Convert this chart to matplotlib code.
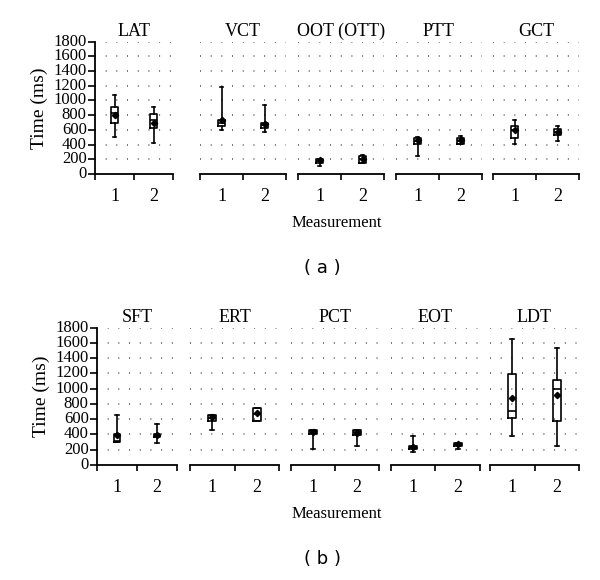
import numpy as np
import matplotlib
matplotlib.use("Agg")
import matplotlib.pyplot as plt

plt.rcParams['font.family'] = 'Liberation Serif'

# box statistics: (whislo, q1, med, q3, whishi, mean)
top_names = ['LAT', 'VCT', 'OOT (OTT)', 'PTT', 'GCT']
top_m1 = [(497, 700, 830, 910, 1078, 808),
          (604, 653, 700, 740, 1190, 730),
          (112, 153, 180, 203, 203, 190),
          (244, 406, 450, 491, 500, 460),
          (406, 491, 600, 659, 740, 595)]
top_m2 = [(415, 627, 740, 821, 910, 694),
          (573, 622, 660, 700, 943, 676),
          (153, 153, 200, 248, 257, 203),
          (402, 402, 450, 496, 514, 460),
          (446, 528, 575, 613, 654, 572)]

bot_names = ['SFT', 'ERT', 'PCT', 'EOT', 'LDT']
bot_m1 = [(297, 297, 320, 402, 659, 393),
          (459, 577, 620, 655, 655, 629),
          (206, 406, 440, 455, 455, 429),
          (166, 206, 230, 253, 376, 232),
          (376, 620, 708, 1197, 1656, 874)]
bot_m2 = [(288, 367, 390, 411, 537, 393),
          (577, 577, 664, 743, 743, 677),
          (253, 398, 430, 455, 455, 420),
          (206, 249, 270, 288, 288, 271),
          (253, 577, 996, 1118, 1530, 914)]

measurements = ['1', '2']
yticks = np.arange(0, 1801, 200)

W, H = 600, 580
fig = plt.figure(figsize=(W / 100, H / 100), dpi=100)

top_x = [(95, 173), (200, 286), (298, 384), (396, 482), (493, 579)]
bot_x = [(97, 177), (190, 279), (291, 379), (391, 480), (490, 579)]


def stats(t):
    return dict(whislo=t[0], q1=t[1], med=t[2], q3=t[3], whishi=t[4], mean=t[5])


def draw_row(names, m1, m2, xs, ytop, ybot, label):
    for i, name in enumerate(names):
        x0, x1 = xs[i]
        ax = fig.add_axes([x0 / W, 1 - ybot / H, (x1 - x0) / W, (ybot - ytop) / H])
        for y in yticks[1:]:
            ax.axhline(y, color='0.25', lw=1.1, linestyle=(0, (0.6, 6.4)), zorder=0)
        lp = dict(color='black', linewidth=1.2)
        ax.bxp([stats(m1[i]), stats(m2[i])], positions=[1, 2], widths=0.17,
               capwidths=0.09, showmeans=True, showfliers=False,
               boxprops=lp, whiskerprops=lp, capprops=lp, medianprops=lp,
               meanprops=dict(marker='D', markerfacecolor='black',
                              markeredgecolor='black', markersize=3.2))
        ax.set_xlim(0.5, 2.5)
        ax.set_ylim(0, 1800)
        for s in ['top', 'right']:
            ax.spines[s].set_visible(False)
        ax.spines['bottom'].set_linewidth(1.3)
        ax.set_xticks([1, 2])
        ax.set_xticklabels(measurements, fontsize=13)
        ax.set_xticks([0.5, 1.5, 2.5], minor=True)
        ax.tick_params(axis='x', which='major', length=0, pad=10)
        ax.tick_params(axis='x', which='minor', length=4, width=1.2, direction='out')
        ax.set_title(name, fontsize=13, pad=4)
        if i == 0:
            ax.spines['left'].set_linewidth(1.3)
            ax.set_yticks(yticks)
            ax.tick_params(axis='y', labelsize=12, length=5, width=1.2, pad=1)
            ax.set_ylabel('Time (ms)', fontsize=14, labelpad=4)
            for t in ax.get_yticklabels():
                t.set_verticalalignment('center')
        else:
            ax.spines['left'].set_visible(False)
            ax.set_yticks([])
    fig.text(337 / W, 1 - (ybot + 49) / H, 'Measurement', ha='center', va='center', fontsize=12)
    fig.text(322 / W, 1 - (ybot + 94) / H, label, ha='center', va='center',
             fontsize=13, family='DejaVu Sans')


draw_row(top_names, top_m1, top_m2, top_x, 41.7, 174, '( a )')
draw_row(bot_names, bot_m1, bot_m2, bot_x, 327.7, 465, '( b )')

fig.savefig('out.png', dpi=100)
